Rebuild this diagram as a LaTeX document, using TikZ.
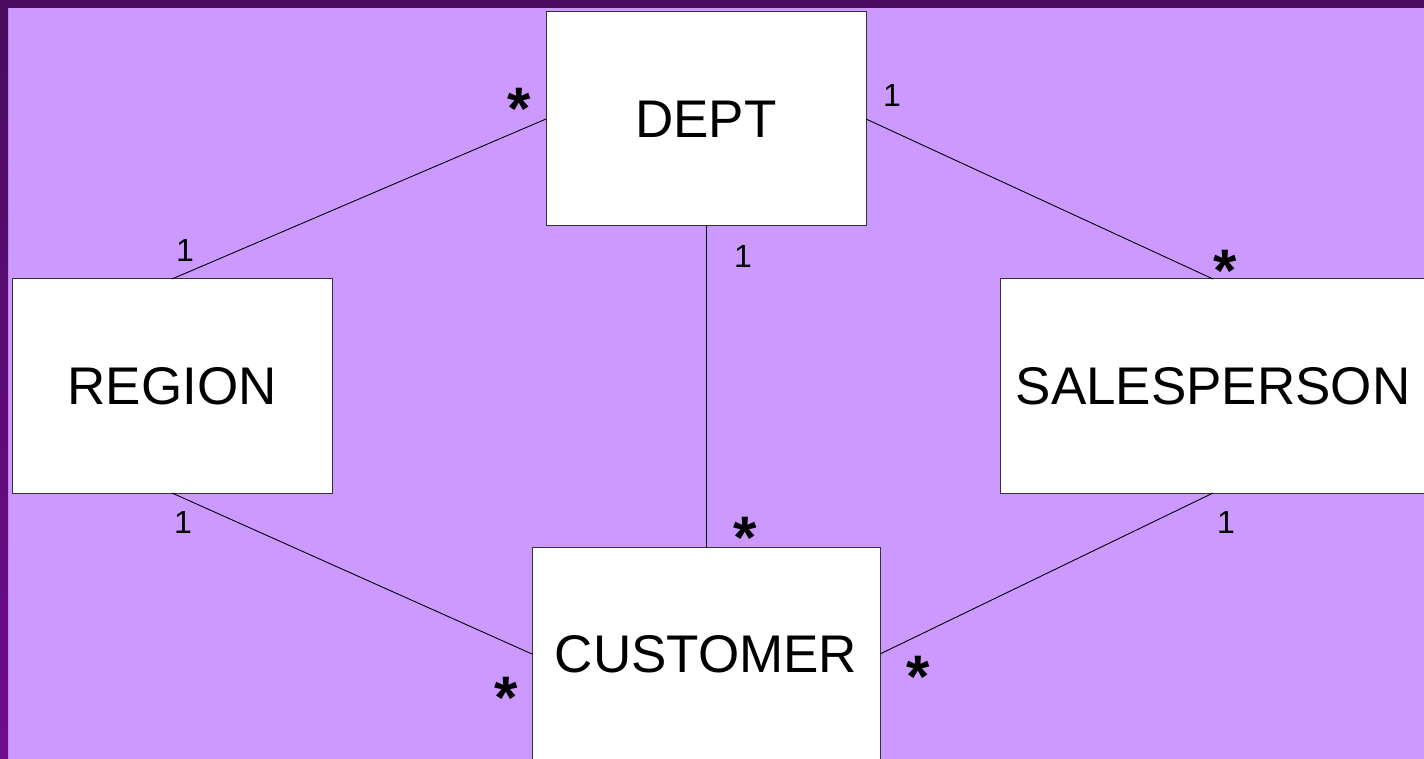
\documentclass[tikz,border=0pt]{standalone}
\usepackage{fontspec}
\setmainfont{Liberation Sans}
\definecolor{bgpurple}{HTML}{CC99FF}
\definecolor{darkband}{HTML}{4A0C5E}
\definecolor{darkband2}{HTML}{6E0C8E}
\definecolor{boxline}{HTML}{333333}
\tikzset{
  entity/.style={draw=boxline, fill=white, line width=1pt, rectangle, inner sep=0pt, outer sep=0pt,
    font=\fontsize{53}{60}\selectfont},
  mult/.style={inner sep=0pt, font=\fontsize{32}{36}\selectfont},
  starlabel/.style={inner sep=0pt, anchor=base, font=\bfseries\fontsize{60}{66}\selectfont},
  conn/.style={draw=black, line width=0.9pt}
}
\begin{document}
\begin{tikzpicture}[x=1pt,y=-1pt]
\useasboundingbox (0,0) rectangle (1424,759);
\clip (0,0) rectangle (1424,759);
\fill[bgpurple] (0,0) rectangle (1424,759);
\fill[darkband] (0,0) rectangle (1424,8);
\shade[top color=darkband, bottom color=darkband2] (0,0) rectangle (8,759);

\node[entity, minimum width=320pt, minimum height=214pt] (dept) at (706,119) {DEPT};
\node[entity, minimum width=320pt, minimum height=214pt] (region) at (172,386) {REGION};
\node[entity, minimum width=426pt, minimum height=214pt] (sales) at (1213,386) {SALESPERSON};
\node[entity, minimum width=348pt, minimum height=214pt] (cust) at (706,654) {CUSTOMER};

\draw[conn] (dept.west) -- (region.north);
\draw[conn] (dept.east) -- (sales.north);
\draw[conn] (dept.south) -- (cust.north);
\draw[conn] (region.south) -- (cust.west);
\draw[conn] (sales.south) -- (cust.east);

\node[mult] (m1) at (892,95) {1};
\node[mult] (m2) at (185,250) {1};
\node[mult] (m3) at (743,256) {1};
\node[mult] (m4) at (183,522) {1};
\node[mult] (m5) at (1226,522) {1};

\node[starlabel] (s1) at (519,130) {*};
\node[starlabel] (s2) at (1225,292) {*};
\node[starlabel] (s3) at (745,558) {*};
\node[starlabel] (s4) at (918,697) {*};
\node[starlabel] (s5) at (506,718) {*};
\end{tikzpicture}
\end{document}
